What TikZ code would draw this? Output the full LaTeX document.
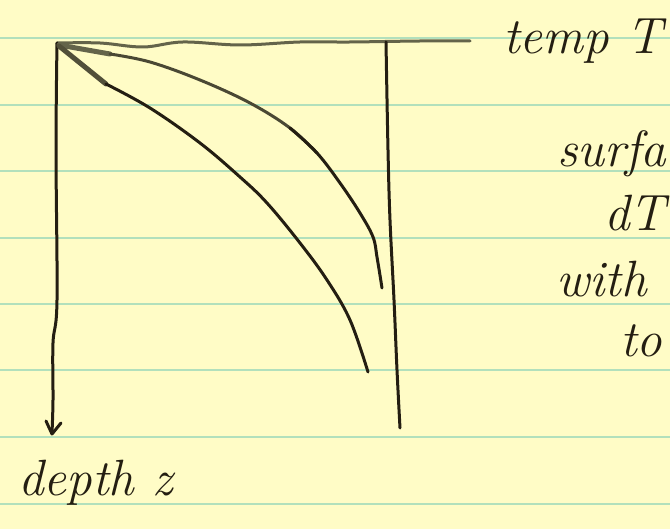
\documentclass[tikz,border=0pt]{standalone}
\usetikzlibrary{arrows.meta}
\definecolor{paper}{RGB}{255,252,198}
\definecolor{rule}{RGB}{178,224,188}
\definecolor{ink}{RGB}{36,30,18}
\definecolor{pencil}{RGB}{100,100,74}
\tikzset{
  inkline/.style={draw=ink, line width=3pt, line cap=round, line join=round},
  pencilline/.style={draw=pencil, line width=3pt, line cap=round, line join=round},
  ruleline/.style={draw=rule, line width=1.4pt},
  hand/.style={text=ink, font=\fontsize{51}{55}\selectfont\itshape, inner sep=0pt, anchor=base west}
}
\begin{document}
\begin{tikzpicture}[x=1pt,y=-1pt]
\useasboundingbox (0,0) rectangle (670,529);
\clip (0,0) rectangle (670,529);
\fill[paper] (0,0) rectangle (670,529);
% ruled lines
\foreach \yy in {38,105,171,238,304,370,437,504}
  \draw[ruleline] (0,\yy) -- (670,\yy);
% top axis (temperature)
\draw[pencilline] plot[smooth, tension=0.6] coordinates {(57,43) (100,43) (143,47) (183,42) (240,45) (300,42) (350,42) (420,41) (470,41)};
% left axis (depth) with arrow
\draw[inkline] plot[smooth, tension=0.6] coordinates {(57,43) (56,150) (57,300) (53,343) (53,400) (52,433)};
\coordinate (tip) at (52,434);
\coordinate (armL) at (46,421);
\coordinate (armR) at (61,423);
\draw[inkline] (armL) -- (tip) -- (armR);
% right vertical line
\draw[inkline] plot[smooth, tension=0.6] coordinates {(386,42) (388,150) (390,220) (394,300) (397,370) (400,428)};
% upper curve
\draw[pencilline, line width=5pt] (59,45) -- (110,54);
\draw[pencilline, draw=pencil!60!ink] plot[smooth, tension=0.6] coordinates {(110,54) (150,62) (200,80) (250,103) (290,128) (317,153)};
\draw[inkline] plot[smooth, tension=0.6] coordinates {(290,128) (317,153) (340,183) (360,213) (373,237) (377,257) (382,288)};
% lower curve
\draw[inkline, draw=pencil!70!ink, line width=5pt] (59,46) -- (106,84);
\draw[inkline] plot[smooth, tension=0.6] coordinates {(106,84) (150,108) (200,143) (240,177) (267,203) (300,243) (327,280) (350,320) (368,372)};
% texts
\node[hand] (temp) at (503,54) {temp T};
\node[hand] (surf) at (557,167) {surfa};
\node[hand] (dT) at (604,231) {dT};
\node[hand] (with) at (556,297) {with};
\node[hand] (to) at (620,357) {to};
\node[hand] (depth) at (18,495) {depth z};
\end{tikzpicture}
\end{document}
